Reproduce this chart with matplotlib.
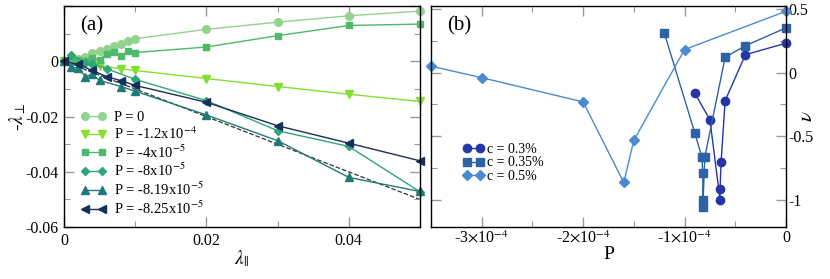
import matplotlib
matplotlib.use('Agg')
import matplotlib.pyplot as plt
from matplotlib.ticker import MultipleLocator, FuncFormatter

plt.rcParams['font.family'] = ['Liberation Serif', 'DejaVu Serif']
plt.rcParams['mathtext.fontset'] = 'stix'

# panel (a): -lambda_perp vs lambda_par for several P
lam_p0 = [0, 0.001, 0.002, 0.003, 0.004, 0.005, 0.006, 0.007, 0.008, 0.009, 0.01, 0.02, 0.03, 0.04, 0.05]
y_p0 = [0, 0.0004, 0.0009, 0.0017, 0.003, 0.0036, 0.0044, 0.0055, 0.0064, 0.0074, 0.0082, 0.0116, 0.0142, 0.0165, 0.0182]

lam_p12 = [0, 0.002, 0.004, 0.005, 0.008, 0.01, 0.02, 0.03, 0.04, 0.05]
y_p12 = [0, -0.0002, -0.0008, -0.0015, -0.0027, -0.0033, -0.0062, -0.0091, -0.0119, -0.0145]

lam_p4 = [0, 0.001, 0.002, 0.003, 0.004, 0.005, 0.006, 0.007, 0.008, 0.009, 0.01, 0.02, 0.03, 0.04, 0.05]
y_p4 = [0, 0.0003, 0.0004, 0.0, 0.0013, 0.0006, 0.0028, 0.0034, 0.0018, 0.0038, 0.0032, 0.0052, 0.0093, 0.013, 0.0135]

lam_p8 = [0, 0.001, 0.003, 0.004, 0.006, 0.01, 0.02, 0.03, 0.04, 0.05]
y_p8 = [0, 0.0024, -0.0005, -0.0008, -0.0027, -0.0065, -0.0142, -0.0251, -0.0308, -0.0472]

lam_p819 = [0, 0.001, 0.002, 0.003, 0.004, 0.005, 0.008, 0.01, 0.02, 0.03, 0.04, 0.05]
y_p819 = [0, -0.0021, -0.0024, -0.0055, -0.0047, -0.0069, -0.0091, -0.0108, -0.0194, -0.0287, -0.042, -0.0471]

lam_p825 = [0, 0.002, 0.004, 0.006, 0.008, 0.01, 0.02, 0.03, 0.04, 0.05]
y_p825 = [0, -0.0011, -0.0033, -0.0055, -0.007, -0.0087, -0.0148, -0.0233, -0.0296, -0.036]

# panel (b): nu vs P for three concentrations
P_c03 = [-0.9e-4, -0.75e-4, -0.65e-4, -0.65e-4, -0.64e-4, -0.6e-4, -0.4e-4, 0]
nu_c03 = [-0.16, -0.37, -1.0, -0.91, -0.70, -0.22, 0.14, 0.23]

P_c035 = [-1.2e-4, -0.9e-4, -0.83e-4, -0.82e-4, -0.82e-4, -0.82e-4, -0.8e-4, -0.6e-4, -0.4e-4, 0]
nu_c035 = [0.31, -0.47, -0.66, -0.79, -1.0, -1.05, -0.66, 0.12, 0.21, 0.35]

P_c05 = [-3.5e-4, -3.0e-4, -2.0e-4, -1.6e-4, -1.5e-4, -1.0e-4, 0]
nu_c05 = [0.05, -0.04, -0.23, -0.86, -0.53, 0.18, 0.48]

fig = plt.figure(figsize=(8.3, 2.79), dpi=100)
ax1 = fig.add_axes([0.0771, 0.186, 0.4289, 0.792])
ax2 = fig.add_axes([0.5193, 0.186, 0.4277, 0.792])

marker_size = {'o': 5.5, 's': 5.0, 'D': 4.2, 'v': 5.5, '^': 5.5, '<': 5.5}

# ---- panel (a) ----
ax1.plot([0, 0.05], [0, -0.05], '--', color='#333333', lw=0.9, zorder=1)
series_a = [
    (lam_p0, y_p0, 'o', '#92d38e', 'P = 0'),
    (lam_p12, y_p12, 'v', '#84e030', r'P = -1.2x10$^{-4}$'),
    (lam_p4, y_p4, 's', '#4cba68', r'P = -4x10$^{-5}$'),
    (lam_p8, y_p8, 'D', '#2ea67a', r'P = -8x10$^{-5}$'),
    (lam_p819, y_p819, '^', '#1e7a78', r'P = -8.19x10$^{-5}$'),
    (lam_p825, y_p825, '<', '#16305a', r'P = -8.25x10$^{-5}$'),
]
for xs, ys, m, c, lab in series_a:
    ax1.plot(xs, ys, marker=m, color=c, lw=1.0, ms=marker_size[m], label=lab, clip_on=False)


def x_fmt(v, pos):
    return '0' if abs(v) < 1e-12 else '%g' % v


def y_fmt(v, pos):
    # no label on the top tick (0.02)
    if v > 0.015:
        return ''
    return x_fmt(v, pos)


ax1.set_xlim(0, 0.05)
ax1.set_ylim(-0.06, 0.02)
ax1.xaxis.set_major_locator(MultipleLocator(0.02))
ax1.xaxis.set_minor_locator(MultipleLocator(0.01))
ax1.yaxis.set_major_locator(MultipleLocator(0.02))
ax1.yaxis.set_minor_locator(MultipleLocator(0.01))
ax1.xaxis.set_major_formatter(FuncFormatter(x_fmt))
ax1.yaxis.set_major_formatter(FuncFormatter(y_fmt))
ax1.set_xlabel(r'$\lambda_{||}$', fontsize=14, labelpad=0)
ax1.set_ylabel(r'-$\lambda_{\perp}$', fontsize=14, labelpad=-2)
ax1.text(0.045, 0.955, '(a)', transform=ax1.transAxes, fontsize=15, va='top')
ax1.legend(loc='lower left', bbox_to_anchor=(0.03, 0.02), frameon=False, fontsize=10.5,
           handlelength=1.8, numpoints=2, labelspacing=0.1, handletextpad=0.5, borderaxespad=0.0)

# ---- panel (b) ----
series_b = [
    (P_c03, nu_c03, 'o', '#2537a8', 'c = 0.3%'),
    (P_c035, nu_c035, 's', '#2c62a8', 'c = 0.35%'),
    (P_c05, nu_c05, 'D', '#4a8bd0', 'c = 0.5%'),
]
for xs, ys, m, c, lab in series_b:
    ax2.plot(xs, ys, marker=m, color=c, lw=1.0, ms=marker_size[m] + 0.5, label=lab, clip_on=False)

ax2.set_xlim(-3.5e-4, 0)
ax2.set_ylim(-1.21, 0.52)
ax2.xaxis.set_major_locator(MultipleLocator(1e-4))
ax2.xaxis.set_minor_locator(MultipleLocator(0.5e-4))
ax2.yaxis.set_major_locator(MultipleLocator(0.5))
ax2.yaxis.set_minor_locator(MultipleLocator(0.25))


def p_fmt(v, pos):
    k = int(round(v / 1e-4))
    if k == 0:
        return '0'
    return r'%d$\times$10$^{-4}$' % k


ax2.xaxis.set_major_formatter(FuncFormatter(p_fmt))
ax2.yaxis.set_major_formatter(FuncFormatter(x_fmt))
ax2.yaxis.tick_right()
ax2.yaxis.set_label_position('right')
ax2.set_xlabel('P', fontsize=14, labelpad=0)
ax2.set_ylabel(r'$\nu$', fontsize=15)
ax2.yaxis.set_label_coords(1.035, 0.5)
ax2.text(0.045, 0.955, '(b)', transform=ax2.transAxes, fontsize=15, va='top')
ax2.legend(loc='upper left', bbox_to_anchor=(0.075, 0.405), frameon=False, fontsize=10,
           handlelength=1.5, numpoints=2, labelspacing=0.02, handletextpad=0.2, borderaxespad=0.0)

for ax in (ax1, ax2):
    ax.tick_params(which='both', direction='in', top=True, bottom=True, left=True, right=True,
                   color='#999999', labelsize=11.5, pad=4)
    ax.tick_params(which='major', length=7, width=1)
    ax.tick_params(which='minor', length=4, width=0.8)
    for s in ax.spines.values():
        s.set_linewidth(1.0)
ax2.tick_params(labelleft=False, labelright=True, pad=2)

fig.savefig('out.png', dpi=100)
